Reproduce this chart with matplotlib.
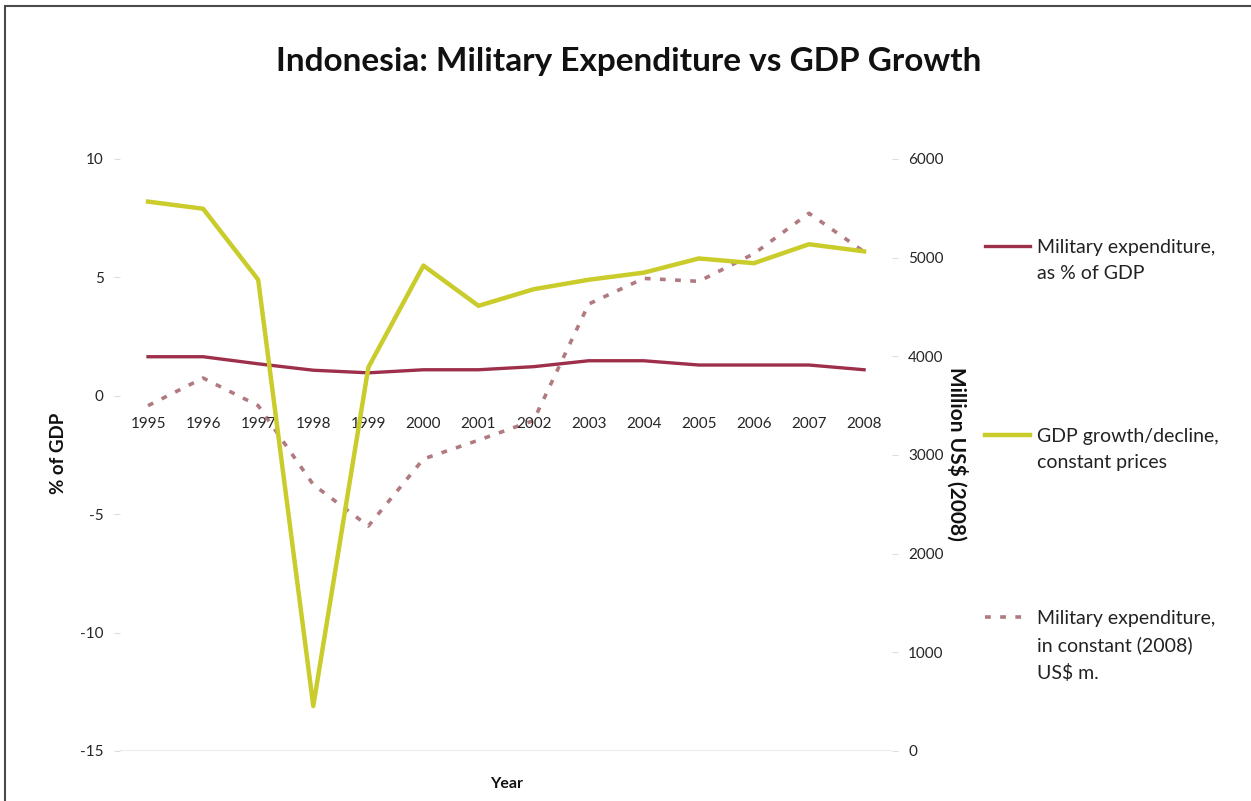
import matplotlib
matplotlib.use("Agg")
import matplotlib.pyplot as plt
from matplotlib.lines import Line2D
from matplotlib.patches import Rectangle

plt.rcParams['font.family'] = ['Lato', 'DejaVu Sans']

# Data
years = ['1995', '1996', '1997', '1998', '1999', '2000', '2001',
         '2002', '2003', '2004', '2005', '2006', '2007', '2008']
milex_pct_gdp = [1.65, 1.65, 1.35, 1.08, 0.97, 1.10, 1.10,
                 1.23, 1.48, 1.48, 1.30, 1.30, 1.30, 1.10]
gdp_growth = [8.2, 7.9, 4.9, -13.1, 1.2, 5.5, 3.8,
              4.5, 4.9, 5.2, 5.8, 5.6, 6.4, 6.1]
milex_const_usd = [3500, 3780, 3500, 2700, 2280, 2960, 3150,
                   3350, 4530, 4790, 4760, 5040, 5450, 5060]

left_ticks = [-15, -10, -5, 0, 5, 10]
right_ticks = [0, 1000, 2000, 3000, 4000, 5000, 6000]

c_pct = '#9e2f4a'
c_gdp = '#c9cc2b'
c_usd = '#b07a80'
c_text = '#262626'

fig = plt.figure(figsize=(12.51, 8.01), dpi=100)
fig.patch.set_facecolor('white')

W, H = 1251, 801

# Chart-area frame (runs past the right and bottom edges)
fig.add_artist(Rectangle((5 / W, -0.05), 1.2, 1 - 6 / H + 0.05,
                         transform=fig.transFigure, fill=False,
                         edgecolor='#4a4a4a', linewidth=1.5))

left_px, right_px = 120.5, 891.6
top_px, bot_px = 159, 751
ax = fig.add_axes([left_px / W, 1 - bot_px / H,
                   (right_px - left_px) / W, (bot_px - top_px) / H])
ax2 = ax.twinx()

x = list(range(len(years)))

ax.set_xlim(-0.5, len(years) - 0.5)
ax.set_ylim(-15, 10)
ax2.set_ylim(0, 6000)

ax.axhline(-15, color='#ebe7e3', linewidth=2, zorder=0)

usd_style = dict(color=c_usd, linewidth=2.6, linestyle=(0, (1.6, 2.6)))
pct_style = dict(color=c_pct, linewidth=2.4)
gdp_style = dict(color=c_gdp, linewidth=3.2)

ax2.plot(x, milex_const_usd, zorder=2, **usd_style)
ax.plot(x, milex_pct_gdp, zorder=3, **pct_style)
ax.plot(x, gdp_growth, zorder=4, **gdp_style)

ax.set_zorder(ax2.get_zorder() + 1)
ax.patch.set_visible(False)

for a in (ax, ax2):
    for s in a.spines.values():
        s.set_visible(False)

# Category axis crosses the value axis at 0
ax.spines['bottom'].set_position(('data', 0))
ax.set_xticks(x)
ax.set_xticklabels(years)
ax.tick_params(axis='x', length=0, pad=15, labelsize=11, labelcolor=c_text)

ax.set_yticks(left_ticks)
ax.set_yticklabels([str(v) for v in left_ticks])
ax.tick_params(axis='y', length=4, color='#dddddd', pad=8,
               labelsize=11, labelcolor=c_text)

ax2.set_yticks(right_ticks)
ax2.set_yticklabels([str(v) for v in right_ticks])
ax2.tick_params(axis='y', length=4, color='#dddddd', pad=8,
                labelsize=11, labelcolor=c_text)

# Titles and axis captions
fig.text(629 / W, 1 - 61 / H, 'Indonesia: Military Expenditure vs GDP Growth',
         ha='center', va='center', fontsize=24, fontweight='bold', color='#111111')
fig.text(58 / W, 1 - 453 / H, '% of GDP', rotation=90, ha='center', va='center',
         fontsize=13.5, fontweight='bold', color='#111111')
fig.text(957 / W, 1 - 454 / H, 'Million US$ (2008)', rotation=270, ha='center',
         va='center', fontsize=15, fontweight='bold', color='#111111')
fig.text(507 / W, 1 - 784 / H, 'Year', ha='center', va='center',
         fontsize=11.5, fontweight='bold', color='#111111')

# Legend
legend_items = [
    (246, 'Military expenditure,\nas % of GDP', pct_style),
    (435, 'GDP growth/decline,\nconstant prices', gdp_style),
    (617, 'Military expenditure,\nin constant (2008)\nUS$ m.', usd_style),
]
for ypx, label, style in legend_items:
    yf = 1 - ypx / H
    fig.add_artist(Line2D([985 / W, 1030 / W], [yf, yf],
                          transform=fig.transFigure, **style))
    fig.text(1037 / W, yf + 7 / H, label, ha='left', va='top',
             fontsize=14, color='#222222', linespacing=1.65)

fig.savefig('out.png', dpi=100, facecolor='white')
